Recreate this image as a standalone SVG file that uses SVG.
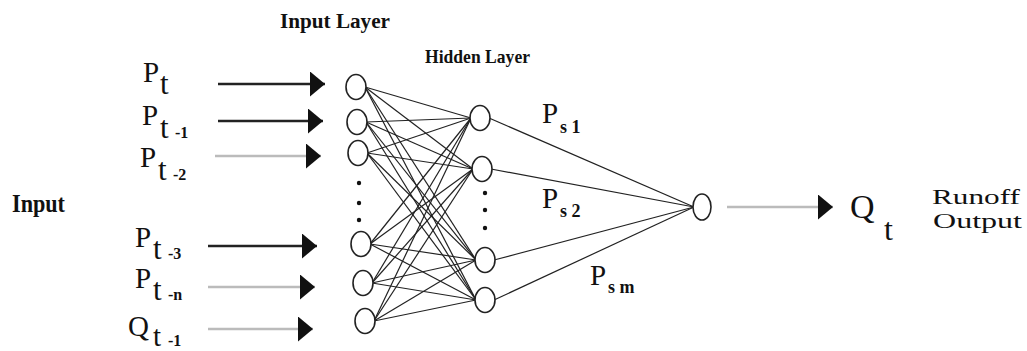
<svg xmlns="http://www.w3.org/2000/svg" width="1027" height="351" viewBox="0 0 1027 351">
<style>
.bg{fill:#fff}
.node{fill:#fff;stroke:#222;stroke-width:1.6}
.edge{stroke:#222;stroke-width:1.2;fill:none}
.arr{stroke:#222;stroke-width:2.6;fill:none}
.arr.g{stroke:#bbb}
.dot{fill:#111}
.t{font-family:"Liberation Serif","Times New Roman",serif;fill:#111}
.b{font-weight:bold}
</style>
<defs>
<marker id="ah" markerUnits="userSpaceOnUse" markerWidth="16" markerHeight="26" refX="15" refY="12.5" orient="auto">
<path d="M0,0 L15,12.5 L0,25 z" fill="#111"/>
</marker>
</defs>
<rect class="bg" x="0" y="0" width="1027" height="351"/>

<g id="titles">
<text class="t b" x="280" y="28" font-size="20" textLength="110" lengthAdjust="spacingAndGlyphs">Input Layer</text>
<text class="t b" x="425" y="63" font-size="19" textLength="105" lengthAdjust="spacingAndGlyphs">Hidden Layer</text>
<text class="t b" x="12" y="212" font-size="26" textLength="53" lengthAdjust="spacingAndGlyphs">Input</text>
<text class="t" x="932" y="204" font-size="22" textLength="88" lengthAdjust="spacingAndGlyphs">Runoff</text>
<text class="t" x="933" y="228" font-size="22" textLength="89" lengthAdjust="spacingAndGlyphs">Output</text>
</g>

<g id="input-labels">
<text class="t" x="143" y="82" font-size="29">P</text><text class="t" x="160" y="94" font-size="31">t</text>
<text class="t" x="142" y="125" font-size="29">P</text><text class="t" x="160" y="138" font-size="31">t</text><text class="t b" x="175" y="138" font-size="16">-1</text>
<text class="t" x="140" y="167" font-size="29">P</text><text class="t" x="158" y="180" font-size="31">t</text><text class="t b" x="173" y="180" font-size="16">-2</text>
<text class="t" x="135" y="247" font-size="29">P</text><text class="t" x="153" y="259" font-size="31">t</text><text class="t b" x="168" y="259" font-size="16">-3</text>
<text class="t" x="135" y="288" font-size="29">P</text><text class="t" x="153" y="300" font-size="31">t</text><text class="t b" x="168" y="300" font-size="16">-n</text>
<text class="t" x="128" y="336" font-size="29">Q</text><text class="t" x="153" y="346" font-size="29">t</text><text class="t b" x="168" y="346" font-size="16">-1</text>
</g>

<g id="weight-labels">
<text class="t" x="542" y="123" font-size="29">P</text><text class="t b" x="560" y="133" font-size="18">s 1</text>
<text class="t" x="542" y="208" font-size="29">P</text><text class="t b" x="560" y="217" font-size="18">s 2</text>
<text class="t" x="590" y="285" font-size="29">P</text><text class="t b" x="608" y="293" font-size="18">s m</text>
</g>

<g id="output-label">
<text class="t" x="850" y="218" font-size="34">Q</text><text class="t" x="884" y="240" font-size="32">t</text>
</g>

<g id="connectors">
<line class="arr" x1="218" y1="84" x2="325" y2="84" marker-end="url(#ah)"/>
<line class="arr" x1="218" y1="121" x2="323" y2="121" marker-end="url(#ah)"/>
<line class="arr g" x1="215" y1="156" x2="321" y2="156" marker-end="url(#ah)"/>
<line class="arr" x1="208" y1="246" x2="317" y2="246" marker-end="url(#ah)"/>
<line class="arr g" x1="208" y1="287" x2="315" y2="287" marker-end="url(#ah)"/>
<line class="arr g" x1="208" y1="329" x2="313" y2="329" marker-end="url(#ah)"/>
<line class="arr g" x1="727" y1="207" x2="833" y2="207" marker-end="url(#ah)"/>

<line class="edge" x1="365" y1="87" x2="471" y2="118"/>
<line class="edge" x1="365" y1="87" x2="473" y2="169"/>
<line class="edge" x1="365" y1="87" x2="476" y2="260"/>
<line class="edge" x1="365" y1="87" x2="476" y2="300"/>
<line class="edge" x1="366" y1="122" x2="471" y2="118"/>
<line class="edge" x1="366" y1="122" x2="473" y2="169"/>
<line class="edge" x1="366" y1="122" x2="476" y2="260"/>
<line class="edge" x1="366" y1="122" x2="476" y2="300"/>
<line class="edge" x1="367" y1="153" x2="471" y2="118"/>
<line class="edge" x1="367" y1="153" x2="473" y2="169"/>
<line class="edge" x1="367" y1="153" x2="476" y2="260"/>
<line class="edge" x1="367" y1="153" x2="476" y2="300"/>
<line class="edge" x1="370" y1="244" x2="471" y2="118"/>
<line class="edge" x1="370" y1="244" x2="473" y2="169"/>
<line class="edge" x1="370" y1="244" x2="476" y2="260"/>
<line class="edge" x1="370" y1="244" x2="476" y2="300"/>
<line class="edge" x1="372" y1="283" x2="471" y2="118"/>
<line class="edge" x1="372" y1="283" x2="473" y2="169"/>
<line class="edge" x1="372" y1="283" x2="476" y2="260"/>
<line class="edge" x1="372" y1="283" x2="476" y2="300"/>
<line class="edge" x1="374" y1="321" x2="471" y2="118"/>
<line class="edge" x1="374" y1="321" x2="473" y2="169"/>
<line class="edge" x1="374" y1="321" x2="476" y2="260"/>
<line class="edge" x1="374" y1="321" x2="476" y2="300"/>

<line class="edge" x1="489" y1="118" x2="694" y2="207"/>
<line class="edge" x1="491" y1="169" x2="694" y2="207"/>
<line class="edge" x1="494" y1="260" x2="694" y2="207"/>
<line class="edge" x1="494" y1="300" x2="694" y2="207"/>
</g>

<g id="input-nodes">
<ellipse class="node" cx="356" cy="87" rx="10" ry="12.5"/>
<ellipse class="node" cx="357" cy="122" rx="10" ry="12.5"/>
<ellipse class="node" cx="358" cy="153" rx="10" ry="12.5"/>
<circle class="dot" cx="359" cy="183" r="2.2"/>
<circle class="dot" cx="359" cy="203" r="2.2"/>
<circle class="dot" cx="359" cy="220" r="2.2"/>
<ellipse class="node" cx="361" cy="244" rx="10" ry="12.5"/>
<ellipse class="node" cx="363" cy="283" rx="10" ry="12.5"/>
<ellipse class="node" cx="365" cy="321" rx="10" ry="12.5"/>
</g>

<g id="hidden-nodes">
<ellipse class="node" cx="480" cy="118" rx="10" ry="12.5"/>
<ellipse class="node" cx="482" cy="169" rx="10" ry="12.5"/>
<circle class="dot" cx="485" cy="193" r="2.2"/>
<circle class="dot" cx="485" cy="210" r="2.2"/>
<circle class="dot" cx="485" cy="228" r="2.2"/>
<ellipse class="node" cx="485" cy="260" rx="10" ry="12.5"/>
<ellipse class="node" cx="485" cy="300" rx="10" ry="12.5"/>
</g>

<g id="output-node">
<ellipse class="node" cx="702" cy="207" rx="9" ry="13"/>
</g>
</svg>
